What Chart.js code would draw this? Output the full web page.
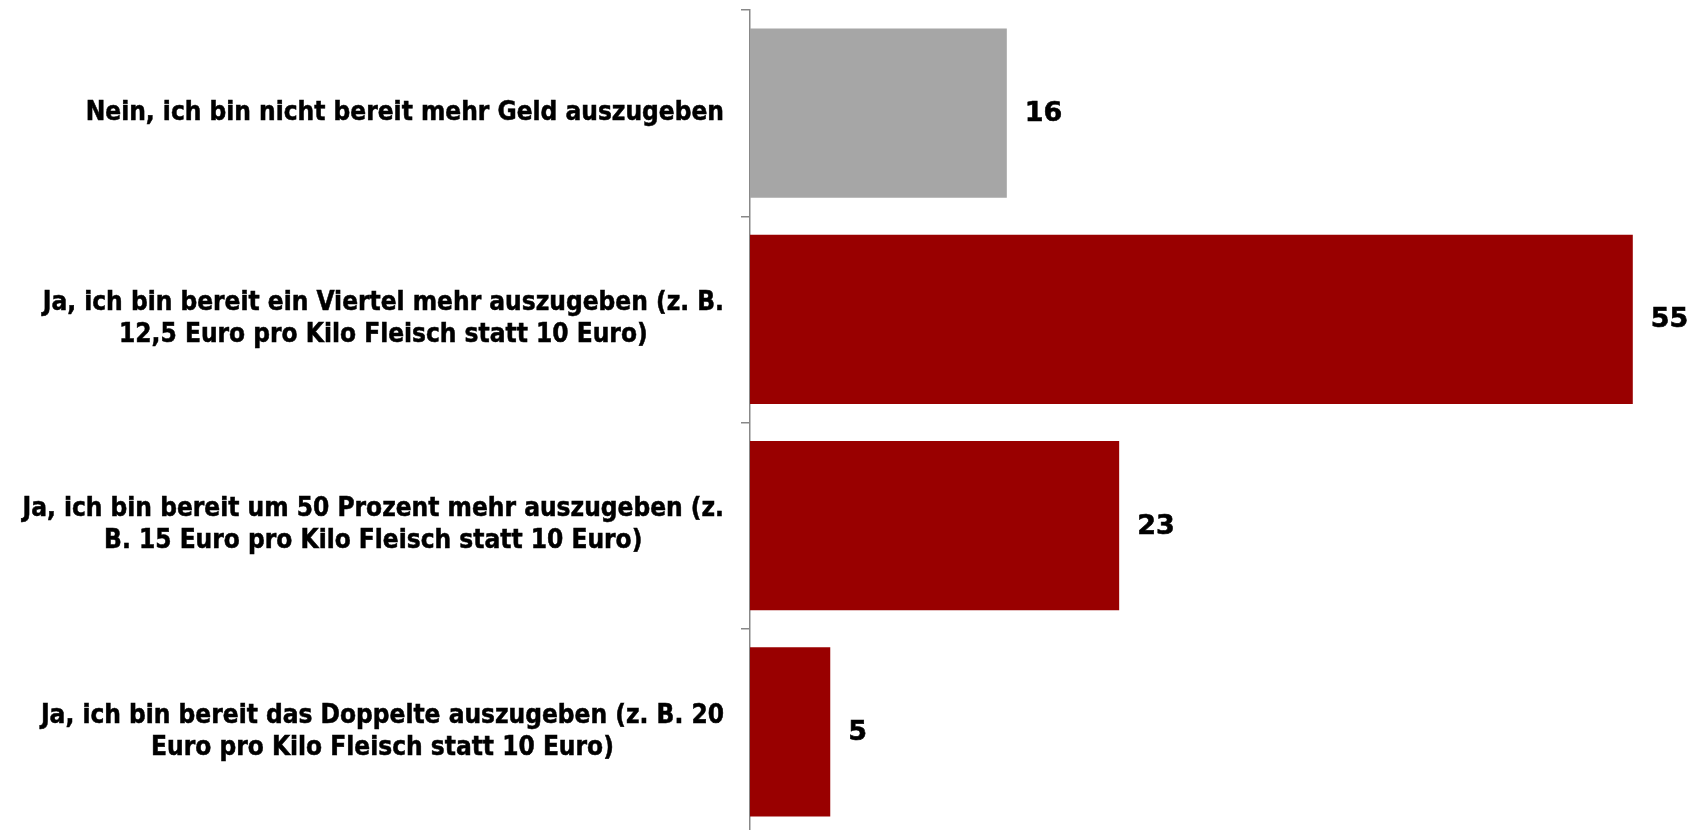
<!DOCTYPE html>
<html>
<head>
<meta charset="utf-8">
<script src="https://cdn.jsdelivr.net/npm/chart.js@4"></script>
<style>
  html, body { margin: 0; padding: 0; background: #fff; overflow: hidden; }
  #wrap { width: 1699px; height: 836px; }
</style>
</head>
<body>
<div id="wrap"><canvas id="chart" width="1699" height="836"></canvas></div>
<script>
/* ---------- data ---------- */
const categories = [
  ['Nein, ich bin nicht bereit mehr Geld auszugeben'],
  ['Ja, ich bin bereit ein Viertel mehr auszugeben (z. B.', '12,5 Euro pro Kilo Fleisch statt 10 Euro)'],
  ['Ja, ich bin bereit um 50 Prozent mehr auszugeben (z.', 'B. 15 Euro pro Kilo Fleisch statt 10 Euro)'],
  ['Ja, ich bin bereit das Doppelte auszugeben (z. B. 20', 'Euro pro Kilo Fleisch statt 10 Euro)']
];
const values = [16, 55, 23, 5];

/* ---------- colours ---------- */
const COLORS = {
  no   : '#A6A6A6',
  yes  : '#990000',
  axis : '#888888',
  text : '#000000'
};
const barColors = values.map((v, i) => i === 0 ? COLORS.no : COLORS.yes);

const LABEL_FONT = 'bold 26px "DejaVu Sans Condensed", "DejaVu Sans", sans-serif';
const VALUE_FONT = 'bold 27px "DejaVu Sans", sans-serif';
const AXIS_X = 750;

/* fill + thin stroke so the bold text is as heavy as the original */
const heavyText = (ctx, txt, x, y) => {
  ctx.fillText(txt, x, y);
  ctx.strokeText(txt, x, y);
};

/* category labels: block right-aligned, lines centred inside the block */
const catLabels = {
  id: 'catLabels',
  afterDraw (chart) {
    const { ctx } = chart, y = chart.scales.y;
    ctx.save();
    ctx.font = LABEL_FONT;
    ctx.fillStyle = ctx.strokeStyle = COLORS.text;
    ctx.lineWidth = 0.5;
    ctx.textAlign = 'center';
    ctx.textBaseline = 'middle';
    const lh = 32;
    categories.forEach((lines, i) => {
      const w = Math.max(...lines.map(l => ctx.measureText(l).width));
      const cx = y.right - 26 - w / 2;
      const cy = y.getPixelForTick(i);
      lines.forEach((l, k) => {
        heavyText(ctx, l, cx, cy + (k - (lines.length - 1) / 2) * lh);
      });
    });
    ctx.restore();
  }
};

/* value labels at bar ends */
const valueLabels = {
  id: 'valueLabels',
  afterDatasetsDraw (chart) {
    const { ctx } = chart;
    ctx.save();
    ctx.font = VALUE_FONT;
    ctx.fillStyle = ctx.strokeStyle = COLORS.text;
    ctx.lineWidth = 0.6;
    ctx.textAlign = 'left';
    ctx.textBaseline = 'middle';
    chart.getDatasetMeta(0).data.forEach((bar, i) => {
      heavyText(ctx, String(values[i]), bar.x + 18, bar.y + 1);
    });
    ctx.restore();
  }
};

new Chart(document.getElementById('chart'), {
  type: 'bar',
  data: {
    labels: categories,
    datasets: [{
      data: values,
      backgroundColor: barColors,
      borderWidth: 0,
      barPercentage: 0.82,
      categoryPercentage: 1
    }]
  },
  options: {
    indexAxis: 'y',
    responsive: false,
    animation: false,
    layout: { padding: { top: 10, bottom: 1, right: 2, left: 0 } },
    plugins: { legend: { display: false }, tooltip: { enabled: false } },
    scales: {
      x: { display: false, min: 0, max: 59 },
      y: {
        afterFit: s => { s.width = AXIS_X; },
        ticks: { display: false },
        grid: {
          display: true, drawOnChartArea: false, offset: true,
          tickLength: 9, color: COLORS.axis, lineWidth: 1.5
        },
        border: { display: true, color: COLORS.axis, width: 1.5 }
      }
    }
  },
  plugins: [catLabels, valueLabels]
});
</script>
</body>
</html>
